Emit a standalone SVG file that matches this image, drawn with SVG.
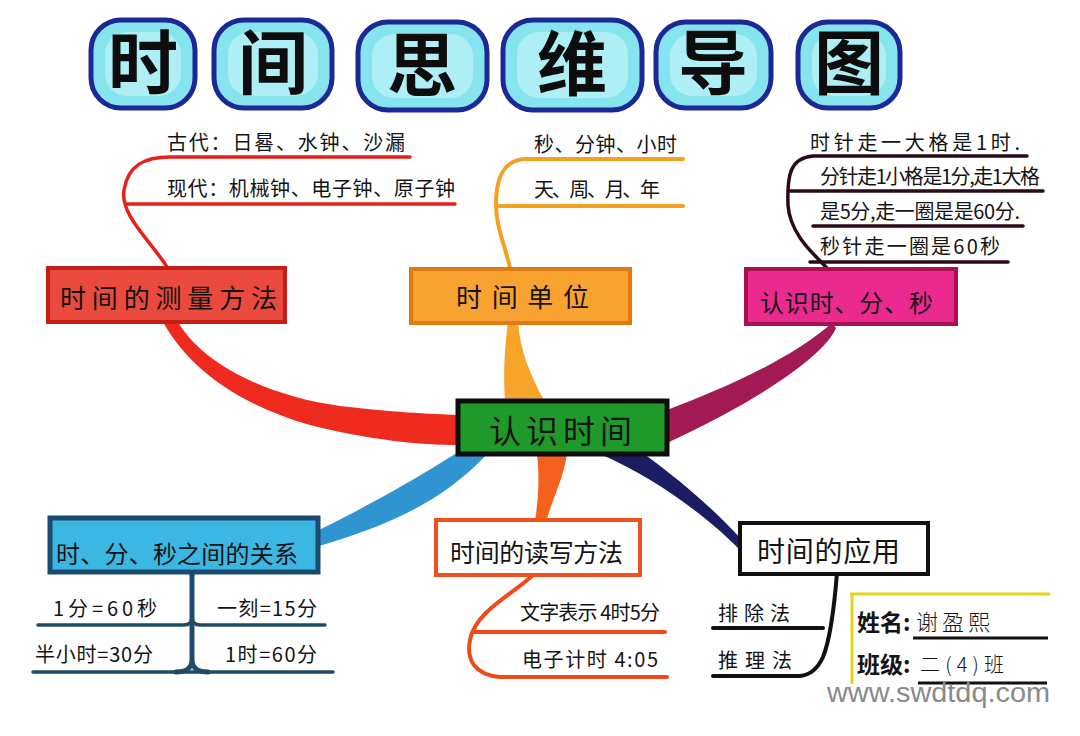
<svg xmlns="http://www.w3.org/2000/svg" width="1080" height="736" viewBox="0 0 1080 736">
<style>
.t{font-family:"Noto Sans CJK SC","Noto Sans CJK JP","Noto Sans",sans-serif;fill:#141414;}
.ttl{font-family:"Noto Sans CJK SC","Noto Sans CJK JP",sans-serif;font-size:70px;font-weight:bold;fill:#0d0d0d;text-anchor:middle;}
.bub{fill:#86e4ee;stroke:#1b2896;stroke-width:5;}
.bubin{fill:#c8f6f8;opacity:0.6;}
.lbl{font-size:26px;}
.sub{font-size:20px;}
.br{fill:none;stroke-linecap:round;stroke-linejoin:round;}
</style>
<rect width="1080" height="736" fill="#ffffff"/>

<g id="title">
  <rect class="bub" x="91" y="20" width="104" height="88" rx="30"/>
  <rect class="bubin" x="105" y="32" width="76" height="64" rx="22"/>
  <text class="ttl" x="143" y="89">时</text>
  <rect class="bub" x="214" y="20" width="118" height="88" rx="30"/>
  <rect class="bubin" x="228" y="32" width="90" height="64" rx="22"/>
  <text class="ttl" x="273" y="89">间</text>
  <rect class="bub" x="358" y="22" width="129" height="88" rx="30"/>
  <rect class="bubin" x="372" y="34" width="101" height="64" rx="22"/>
  <text class="ttl" x="422" y="91">思</text>
  <rect class="bub" x="503" y="20" width="139" height="90" rx="30"/>
  <rect class="bubin" x="517" y="32" width="111" height="66" rx="22"/>
  <text class="ttl" x="572" y="90">维</text>
  <rect class="bub" x="656" y="22" width="115" height="86" rx="30"/>
  <rect class="bubin" x="670" y="34" width="87" height="62" rx="22"/>
  <text class="ttl" x="713" y="89">导</text>
  <rect class="bub" x="798" y="22" width="102" height="86" rx="30"/>
  <rect class="bubin" x="812" y="34" width="74" height="62" rx="22"/>
  <text class="ttl" x="849" y="89">图</text>
</g>

<g id="connectors">
  <path d="M178,322 C200,360 260,395 340,406 C390,412 430,414 458,415 L458,445 C420,445 370,440 310,425 C240,405 190,370 163,322 Z" fill="#ee2a1e"/>
  <path d="M505,402 C503,370 505,345 508,322 L518,322 C520,350 530,375 545,402 Z" fill="#f6a52a"/>
  <path d="M667,410 C720,390 790,360 832,323 L836,328 C825,355 760,400 667,443 Z" fill="#a41a55"/>
  <path d="M455,454 C430,470 380,500 319,530 L319,546 C380,528 440,505 487,454 Z" fill="#2f94cf"/>
  <path d="M537,454 C540,480 538,500 535,522 L546,522 C552,500 563,480 567,454 Z" fill="#f4601e"/>
  <path d="M600,454 L644,454 C680,480 715,510 742,540 L738,548 C710,520 660,480 600,454 Z" fill="#1c1c62"/>
  <!-- sub branches -->
  <path class="br" d="M167,267 C150,240 120,215 124,190 C128,165 145,157 170,157 L410,157" stroke="#e8201a" stroke-width="3.5"/>
  <path class="br" d="M127,204 L455,204" stroke="#e8201a" stroke-width="3.5"/>
  <path class="br" d="M510,268 C505,245 495,225 496,200 C497,175 505,160 525,159 L683,159" stroke="#f5a020" stroke-width="4"/>
  <path class="br" d="M497,206 L683,206" stroke="#f5a020" stroke-width="4"/>
  <path class="br" d="M827,268 C815,255 790,235 788,205 C787,175 790,158 813,156 L1027,156" stroke="#2a0a18" stroke-width="3.5"/>
  <path class="br" d="M790,191 L1043,191 M813,226 L1023,226 M810,262 L1008,262" stroke="#2a0a18" stroke-width="3.5"/>
  <path class="br" d="M192,572 L192,660 C192,668 186,672 176,672 M192,660 C192,668 198,672 208,672" stroke="#1f4a68" stroke-width="5"/>
  <path class="br" d="M38,625 L184,625 Q192,625 192,617 M192,617 Q192,625 200,625 L325,625 M33,672 L333,672" stroke="#1f4a68" stroke-width="3.5"/>
  <path class="br" d="M535,573 C520,590 475,610 470,640 C466,660 475,675 500,677 L667,677" stroke="#f04a1a" stroke-width="4"/>
  <path class="br" d="M473,632 L665,632" stroke="#f04a1a" stroke-width="4"/>
  <path class="br" d="M837,573 C834,610 830,640 823,657 C818,668 810,675 800,676 L713,676" stroke="#111" stroke-width="4"/>
  <path class="br" d="M713,628 L823,628" stroke="#111" stroke-width="4"/>
</g>

<g id="node-center">
  <rect x="458" y="401" width="209" height="53" fill="#1f9a2a" stroke="#0d0d0d" stroke-width="5"/>
  <text class="t" x="489" y="443" font-size="32" textLength="143" lengthAdjust="spacing">认识时间</text>
</g>

<g id="node-measure">
  <rect x="48" y="268" width="237" height="54" fill="#ea4a3e" stroke="#c41e18" stroke-width="4"/>
  <text class="t lbl" x="60" y="308" textLength="217" lengthAdjust="spacing">时间的测量方法</text>
</g>
<g id="sub-measure">
  <text class="t sub" x="167" y="150" textLength="238" lengthAdjust="spacing">古代：日晷、水钟、沙漏</text>
  <text class="t sub" x="167" y="196" textLength="288" lengthAdjust="spacing">现代：机械钟、电子钟、原子钟</text>
</g>

<g id="node-unit">
  <rect x="411" y="269" width="219" height="54" fill="#f8a232" stroke="#e07a12" stroke-width="4"/>
  <text class="t lbl" x="456" y="307" font-size="28" textLength="133" lengthAdjust="spacing">时间单位</text>
</g>
<g id="sub-unit">
  <text class="t sub" x="534" y="152" textLength="143" lengthAdjust="spacing">秒、分钟、小时</text>
  <text class="t sub" x="534" y="197" textLength="126" lengthAdjust="spacing">天、周、月、年</text>
</g>

<g id="node-hms">
  <rect x="746" y="269" width="210" height="55" fill="#ea2a8e" stroke="#a8104e" stroke-width="4"/>
  <text class="t" x="760" y="312" font-size="24" textLength="173" lengthAdjust="spacing">认识时、分、秒</text>
</g>
<g id="sub-hms">
  <text class="t sub" x="810" y="150" textLength="210" lengthAdjust="spacing">时针走一大格是1时.</text>
  <text class="t sub" x="820" y="184" textLength="220" lengthAdjust="spacing">分针走1小格是1分,走1大格</text>
  <text class="t sub" x="820" y="219" textLength="200" lengthAdjust="spacing">是5分,走一圈是是60分.</text>
  <text class="t sub" x="820" y="254" textLength="180" lengthAdjust="spacing">秒针走一圈是60秒</text>
</g>

<g id="node-relation">
  <rect x="50" y="518" width="268" height="54" fill="#3cb6e2" stroke="#1a4a6e" stroke-width="5"/>
  <text class="t" x="56" y="563" font-size="24" textLength="242" lengthAdjust="spacing">时、分、秒之间的关系</text>
</g>
<g id="sub-relation">
  <text class="t sub" x="53" y="616" textLength="104" lengthAdjust="spacing">1分=60秒</text>
  <text class="t sub" x="217" y="616" textLength="100" lengthAdjust="spacing">一刻=15分</text>
  <text class="t sub" x="35" y="662" textLength="118" lengthAdjust="spacing">半小时=30分</text>
  <text class="t sub" x="225" y="662" textLength="92" lengthAdjust="spacing">1时=60分</text>
</g>

<g id="node-readwrite">
  <rect x="436" y="520" width="204" height="55" fill="#ffffff" stroke="#f0501e" stroke-width="4"/>
  <text class="t" x="450" y="562" font-size="25" textLength="173" lengthAdjust="spacing">时间的读写方法</text>
</g>
<g id="sub-readwrite">
  <text class="t sub" x="520" y="620" textLength="140" lengthAdjust="spacing">文字表示  4时5分</text>
  <text class="t sub" x="522" y="667" textLength="136" lengthAdjust="spacing">电子计时  4:05</text>
</g>

<g id="node-apply">
  <rect x="740" y="523" width="188" height="51" fill="#ffffff" stroke="#111" stroke-width="4"/>
  <text class="t" x="757" y="562" font-size="28" textLength="143" lengthAdjust="spacing">时间的应用</text>
</g>
<g id="sub-apply">
  <text class="t sub" x="718" y="621" font-size="22" textLength="72" lengthAdjust="spacing">排除法</text>
  <text class="t sub" x="718" y="668" font-size="22" textLength="74" lengthAdjust="spacing">推理法</text>
</g>

<g id="name-card">
  <path d="M850,594 L1050,594 M852,594 L852,684" fill="none" stroke="#e6d41a" stroke-width="3"/>
  <path d="M913,638 L1048,638 M918,683 L1047,683" fill="none" stroke="#111" stroke-width="3"/>
  <text class="t" x="857" y="631" font-size="23" font-weight="bold">姓名:</text>
  <text class="t" x="916" y="630" font-size="22" font-weight="300" textLength="74" lengthAdjust="spacing">谢盈熙</text>
  <text class="t" x="857" y="673" font-size="23" font-weight="bold">班级:</text>
  <text class="t" x="920" y="672" font-size="20" font-weight="300" textLength="84" lengthAdjust="spacing">二(4)班</text>
</g>

<text x="827" y="702" font-family="Liberation Sans, Arial, sans-serif" font-size="27" fill="#8a8a8a" textLength="223" lengthAdjust="spacingAndGlyphs">www.swdtdq.com</text>
</svg>
